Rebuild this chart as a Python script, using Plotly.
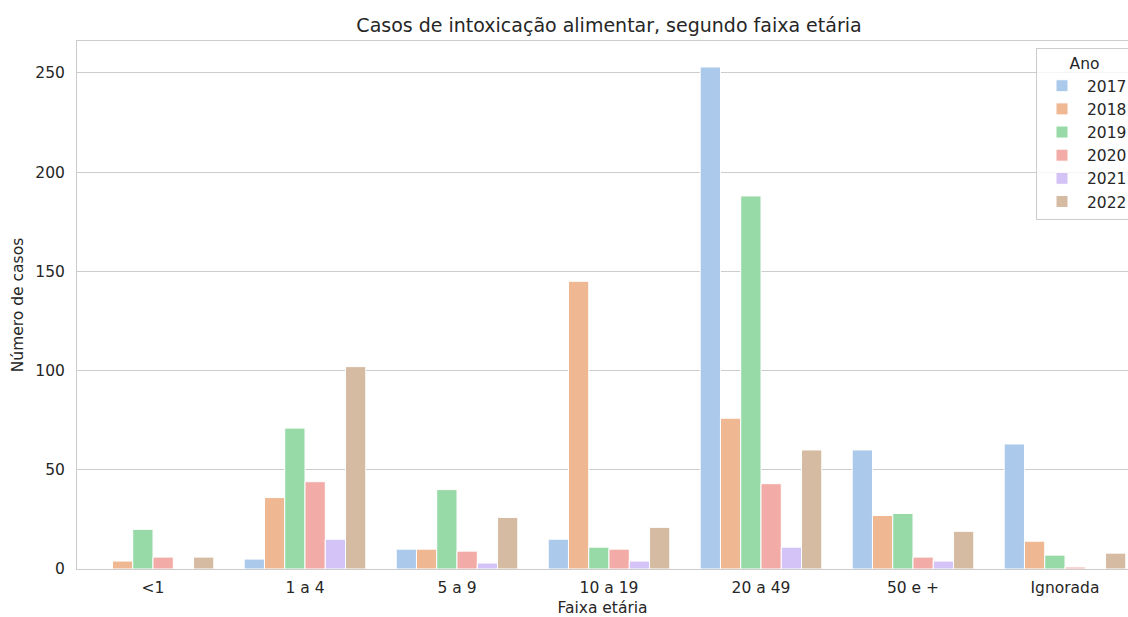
import plotly.graph_objects as go

categorias = ["<1", "1 a 4", "5 a 9", "10 a 19", "20 a 49", "50 e +", "Ignorada"]
anos = ["2017", "2018", "2019", "2020", "2021", "2022"]
casos_2017 = [0, 5, 10, 15, 253, 60, 63]
casos_2018 = [4, 36, 10, 145, 76, 27, 14]
casos_2019 = [20, 71, 40, 11, 188, 28, 7]
casos_2020 = [6, 44, 9, 10, 43, 6, 1]
casos_2021 = [0, 15, 3, 4, 11, 4, 0]
casos_2022 = [6, 102, 26, 21, 60, 19, 8]
series = [casos_2017, casos_2018, casos_2019, casos_2020, casos_2021, casos_2022]
cores = ["#abc9ea", "#efb792", "#98daa7", "#f2aba7", "#d3c3f6", "#d6bba3"]

fig = go.Figure()
for ano, vals, cor in zip(anos, series, cores):
    fig.add_trace(go.Bar(
        x=categorias, y=vals, name=ano,
        marker=dict(color=cor, line=dict(color="white", width=1)),
    ))

W, H = 1128, 617
L, T, B = 77, 41, 48
pw = W - L
ph = H - T - B

font = "DejaVu Sans, sans-serif"
fig.update_layout(
    width=W, height=H,
    barmode="group", bargap=0.2, bargroupgap=0,
    plot_bgcolor="white", paper_bgcolor="white",
    margin=dict(l=L, r=0, t=T, b=B, autoexpand=False),
    font=dict(family=font, size=15.5, color="#262626"),
    title=dict(text="Casos de intoxicação alimentar, segundo faixa etária",
               x=(609 - L) / pw, xref="paper", xanchor="center",
               y=1 - 25 / H, yanchor="middle",
               font=dict(size=19, color="#262626")),
    legend=dict(title=dict(text="Ano", side="top center", font=dict(size=15.5)),
                x=(1036 - L) / pw, xanchor="left", y=(ph - (48 - T)) / ph, yanchor="top",
                bordercolor="#cccccc", borderwidth=1, bgcolor="rgba(255,255,255,0.8)",
                font=dict(size=15.5), itemwidth=40),
)
fig.update_xaxes(
    range=[-0.5, -0.5 + pw / 152], showgrid=False,
    showline=True, linecolor="#cccccc", linewidth=1, mirror=True,
    ticks="", tickfont=dict(size=15.5), ticklabelstandoff=4, automargin=False,
    title=dict(text="Faixa etária", font=dict(size=15.5), standoff=10),
)
fig.update_yaxes(
    range=[0, 266.1], tickvals=[0, 50, 100, 150, 200, 250],
    showgrid=True, gridcolor="#cccccc", gridwidth=1,
    showline=True, linecolor="#cccccc", linewidth=1, mirror=True,
    zeroline=False, ticks="", tickfont=dict(size=15.5), ticklabelstandoff=8,
    automargin=False,
    title=dict(text="Número de casos", font=dict(size=15.5), standoff=7),
)
fig.write_html("out.html", config={"displayModeBar": False},
               post_script="document.body.style.margin='0';")
